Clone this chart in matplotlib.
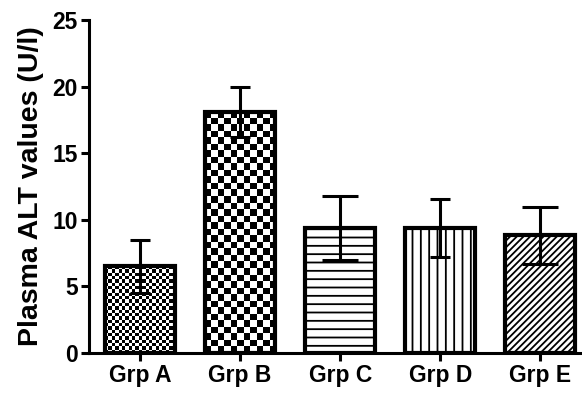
import numpy as np
import matplotlib.pyplot as plt

plt.rcParams['font.family'] = ['Liberation Sans', 'DejaVu Sans']
plt.rcParams['font.weight'] = 'bold'
plt.rcParams['hatch.linewidth'] = 1.3

groups = ['Grp A', 'Grp B', 'Grp C', 'Grp D', 'Grp E']
means = [6.5, 18.1, 9.4, 9.4, 8.85]
errors = [2.0, 1.9, 2.4, 2.2, 2.15]
caps = [7.5, 7.5, 13, 7.5, 13]
hatches = [None, None, '--', '||', '/////']
checker_px = [3.3, 6.5, 0, 0, 0]  # size of checker squares, pixels

fig = plt.figure(figsize=(5.82, 3.94), dpi=100)
ax = fig.add_axes([0.153, 0.104, 0.844, 0.845])

x = np.arange(len(groups))
bars = ax.bar(x, means, width=0.7, facecolor='white', edgecolor='black',
              linewidth=3, zorder=2)
for b, h, cpx in zip(bars, hatches, checker_px):
    if h:
        b.set_hatch(h)
    if cpx:
        b.set_facecolor('none')

ax.set_xlim(-0.51, 4.4)
ax.set_ylim(0, 25)
fig.canvas.draw()

# checkerboard fills, clipped to the bars
for b, cpx in zip(bars, checker_px):
    if not cpx:
        continue
    x0, y0 = b.get_x(), b.get_y()
    x1, y1 = x0 + b.get_width(), y0 + b.get_height()
    p0 = ax.transData.transform((x0, y0))
    p1 = ax.transData.transform((x1, y1))
    nc = max(1, int(round((p1[0] - p0[0]) / cpx)))
    nr = max(1, int(round((p1[1] - p0[1]) / cpx)))
    ii, jj = np.indices((nr, nc))
    img = (ii + jj) % 2
    im = ax.imshow(img, cmap='gray', extent=(x0, x1, y0, y1), aspect='auto',
                   interpolation='nearest', zorder=1.5, origin='lower')
    im.set_clip_path(b)

for xi, m, e, c in zip(x, means, errors, caps):
    ax.errorbar(xi, m, yerr=e, fmt='none', ecolor='black', elinewidth=2.2,
                capsize=c, capthick=2.2, zorder=3)

ax.set_xlim(-0.51, 4.4)
ax.set_ylim(0, 25)
ax.set_xticks(x)
ax.set_xticklabels(groups)
ax.set_yticks([0, 5, 10, 15, 20, 25])
ax.set_ylabel('Plasma ALT values (U/l)', fontsize=20.5, fontweight='bold', labelpad=6)
ax.tick_params(axis='both', labelsize=16.5, width=2.2, length=6, direction='out', pad=2)
for s in ['top', 'right']:
    ax.spines[s].set_visible(False)
for s in ['left', 'bottom']:
    ax.spines[s].set_linewidth(2.2)

fig.savefig('out.png', dpi=100)
